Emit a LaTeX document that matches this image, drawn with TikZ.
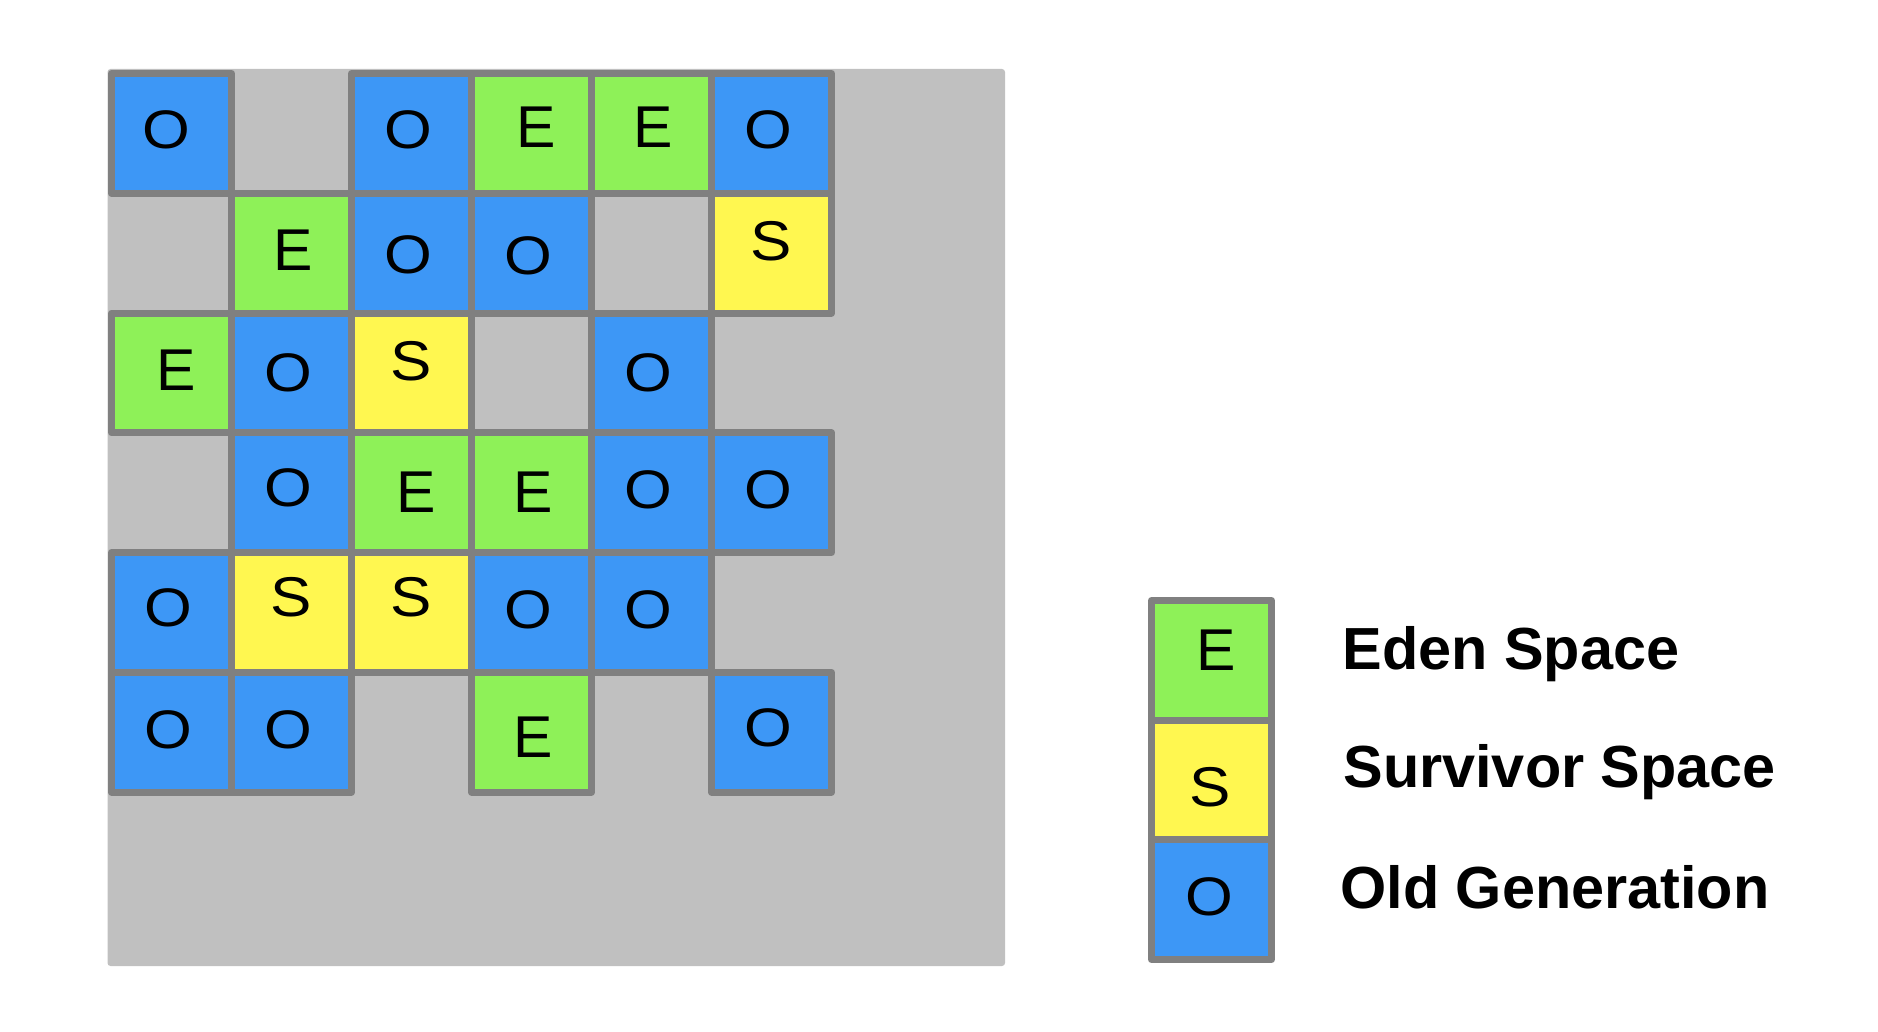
\documentclass[tikz,border=0pt]{standalone}
\usepackage{fontspec}
\setmainfont{Liberation Sans}
\definecolor{oldc}{HTML}{3D97F6}
\definecolor{edenc}{HTML}{8EF158}
\definecolor{survc}{HTML}{FFF750}
\definecolor{bgc}{HTML}{C0C0C0}
\definecolor{edgec}{HTML}{808080}
\newcommand{\Oglyph}{\scalebox{1.04}[0.92]{O}}
\newcommand{\Sglyph}{\scalebox{1.05}[0.95]{S}}
\begin{document}
\begin{tikzpicture}[x=0.5pt,y=-0.5pt,
  cellline/.style={draw=edgec,line width=3.5pt,line join=round},
  letter/.style={inner sep=0pt,font=\fontsize{29.5pt}{29.5pt}\selectfont},
  legendtext/.style={inner sep=0pt,anchor=base west,font=\fontsize{29.7pt}{29.7pt}\selectfont\bfseries}]
\useasboundingbox (0,0) rectangle (1878,1032);
% heap background
\fill[bgc,rounded corners=1.5pt] (107.5,69) rectangle (1005,966);
% cells: col/row/colour
\def\cells{1/1/oldc,3/1/oldc,4/1/edenc,5/1/edenc,6/1/oldc,
2/2/edenc,3/2/oldc,4/2/oldc,6/2/survc,
1/3/edenc,2/3/oldc,3/3/survc,5/3/oldc,
2/4/oldc,3/4/edenc,4/4/edenc,5/4/oldc,6/4/oldc,
1/5/oldc,2/5/survc,3/5/survc,4/5/oldc,5/5/oldc,
1/6/oldc,2/6/oldc,4/6/edenc,6/6/oldc}
\foreach \c/\r/\col in \cells {
  \fill[\col] ({111.5+120*(\c-1)},{73.5+119.75*(\r-1)}) rectangle ({111.5+120*\c},{73.5+119.75*\r});
}
\foreach \c/\r/\col in \cells {
  \draw[cellline] ({111.5+120*(\c-1)},{73.5+119.75*(\r-1)}) rectangle ({111.5+120*\c},{73.5+119.75*\r});
}
% letters
\node[letter] (l11) at (166,130.3) {\Oglyph};
\node[letter] (l13) at (408.3,130.3) {\Oglyph};
\node[letter] (l14) at (536,127.7) {E};
\node[letter] (l15) at (653.5,127.7) {E};
\node[letter] (l16) at (768.8,130.3) {\Oglyph};
\node[letter] (l22) at (293.3,250.3) {E};
\node[letter] (l23) at (408.7,255) {\Oglyph};
\node[letter] (l24) at (528.8,255.5) {\Oglyph};
\node[letter] (l26) at (770.8,240.8) {\Sglyph};
\node[letter] (l31) at (175.8,370.3) {E};
\node[letter] (l32) at (288.8,373) {\Oglyph};
\node[letter] (l33) at (410.8,361.2) {\Sglyph};
\node[letter] (l35) at (648.8,373) {\Oglyph};
\node[letter] (l42) at (288.8,487.5) {\Oglyph};
\node[letter] (l43) at (415.8,492.5) {E};
\node[letter] (l44) at (533.5,492.5) {E};
\node[letter] (l45) at (648.8,490.3) {\Oglyph};
\node[letter] (l46) at (768.8,490.3) {\Oglyph};
\node[letter] (l51) at (168.8,607.5) {\Oglyph};
\node[letter] (l52) at (290.8,597.5) {\Sglyph};
\node[letter] (l53) at (410.8,597.5) {\Sglyph};
\node[letter] (l54) at (528.8,610) {\Oglyph};
\node[letter] (l55) at (648.8,610) {\Oglyph};
\node[letter] (l61) at (168.8,730) {\Oglyph};
\node[letter] (l62) at (288.8,730) {\Oglyph};
\node[letter] (l64) at (533.5,737.2) {E};
\node[letter] (l66) at (768.8,727.8) {\Oglyph};
% legend
\fill[edenc] (1151.5,600.5) rectangle (1271.5,720);
\fill[survc] (1151.5,720) rectangle (1271.5,839.5);
\fill[oldc] (1151.5,839.5) rectangle (1271.5,959.5);
\draw[cellline] (1151.5,600.5) rectangle (1271.5,720);
\draw[cellline] (1151.5,720) rectangle (1271.5,839.5);
\draw[cellline] (1151.5,839.5) rectangle (1271.5,959.5);
\node[letter] (le) at (1216,650.5) {E};
\node[letter] (ls) at (1210,787.5) {\Sglyph};
\node[letter] (lo) at (1209.2,897) {\Oglyph};
\node[legendtext] (te) at (1342,669) {Eden Space};
\node[legendtext] (ts) at (1343,787.5) {Survivor Space};
\node[legendtext] (to) at (1340,908) {Old Generation};
\end{tikzpicture}
\end{document}
